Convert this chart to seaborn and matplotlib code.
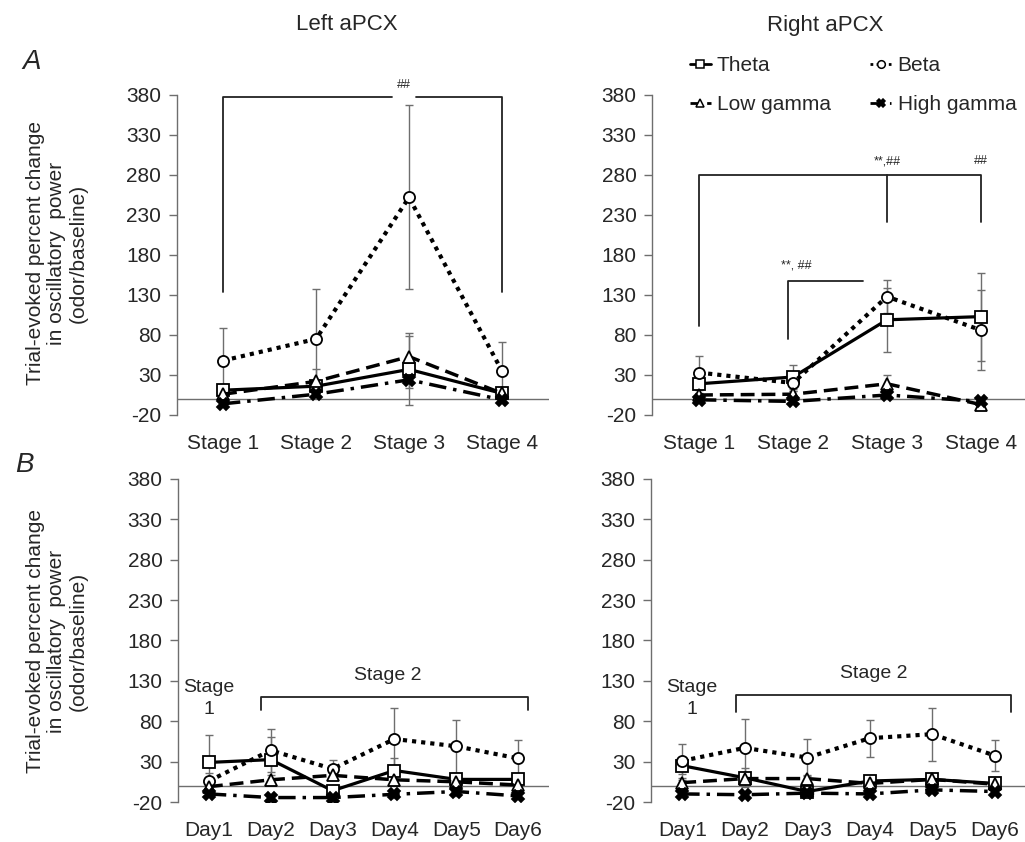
import numpy as np
import pandas as pd
import matplotlib
matplotlib.use("Agg")
import matplotlib.pyplot as plt
import seaborn as sns
from matplotlib.lines import Line2D

sns.set_theme(style="white")
plt.rcParams['font.family'] = ['Liberation Sans', 'DejaVu Sans']

# ---------------- data ----------------
series_names = ["Theta", "Beta", "Low gamma", "High gamma"]
stage_labels = ["Stage 1", "Stage 2", "Stage 3", "Stage 4"]
day_labels = ["Day1", "Day2", "Day3", "Day4", "Day5", "Day6"]
y_ticks = [-20, 30, 80, 130, 180, 230, 280, 330, 380]

# A, left aPCX
left_stage_theta = [11, 16, 37, 7]
left_stage_beta = [48, 75, 252, 35]
left_stage_lowg = [6, 22, 53, 7]
left_stage_highg = [-6, 6, 24, -1]
left_stage_theta_err = [5, 8, 45, 5]
left_stage_beta_err = [41, 62, 115, 36]
left_stage_lowg_err = [5, 15, 26, 5]
left_stage_highg_err = [3, 4, 10, 3]

# A, right aPCX
right_stage_theta = [19, 27.5, 99, 103]
right_stage_beta = [33, 20, 128, 86]
right_stage_lowg = [5, 6, 19, -7]
right_stage_highg = [-1, -3, 5, -3]
right_stage_theta_err = [8, 15, 40, 55]
right_stage_beta_err = [21, 10, 21, 50]
right_stage_lowg_err = [3, 4, 11, 3]
right_stage_highg_err = [2, 2, 4, 2]

# B, left aPCX
left_day_theta = [29, 32.5, -6, 19, 8, 8]
left_day_beta = [6, 44, 21, 58, 49, 34]
left_day_lowg = [-1, 7.5, 13, 7.5, 5, 1]
left_day_highg = [-10, -14.5, -14.5, -10.5, -7, -12.5]
left_day_theta_err = [34, 28, 6, 15, 8, 6]
left_day_beta_err = [10, 27, 11, 39, 33, 23]
left_day_lowg_err = [3, 6, 6, 5, 4, 3]
left_day_highg_err = [3, 3, 3, 4, 5, 3]

# B, right aPCX
right_day_theta = [25, 10, -7, 6, 8, 3]
right_day_beta = [31, 47, 35, 59, 64, 37.5]
right_day_lowg = [4, 9, 9, 3, 8, 2]
right_day_highg = [-10, -11, -9, -10, -5, -7]
right_day_theta_err = [10, 12, 4, 6, 7, 5]
right_day_beta_err = [21, 35.5, 22.5, 23, 33, 19]
right_day_lowg_err = [3, 4, 4, 3, 4, 3]
right_day_highg_err = [3, 3, 3, 3, 4, 3]

# ---------------- styles ----------------
styles = {
    "Theta": dict(ls="-", marker="s", lw=2.3),
    "Beta": dict(ls=(0, (1, 1.2)), marker="o", lw=3.0),
    "Low gamma": dict(ls=(0, (4, 2)), marker="^", lw=2.5),
    "High gamma": dict(ls=(0, (5, 2, 1, 2)), marker="X", lw=2.5),
}
GRAY = "#6e6e6e"

fig = plt.figure(figsize=(10.25, 8.42), dpi=100)
W, H = 1025, 842


def make_ax(x0, x1, ytop, ybot):
    return fig.add_axes([x0 / W, 1 - ybot / H, (x1 - x0) / W, (ybot - ytop) / H])


def draw_panel(ax, labels, vals, errs):
    n = len(labels)
    xs = np.arange(n)
    ax.axhline(0, color=GRAY, lw=1.0, zorder=1)
    for name in series_names:
        ax.errorbar(xs, vals[name], yerr=errs[name], fmt="none", ecolor=GRAY,
                    elinewidth=1.0, capsize=3, capthick=1.0, zorder=2)
    for name in series_names:
        st = styles[name]
        df = pd.DataFrame({"x": xs, "y": vals[name]})
        mfc = "black" if name == "High gamma" else "white"
        sns.lineplot(data=df, x="x", y="y", ax=ax, color="black",
                     linestyle=st["ls"], linewidth=st["lw"], marker=st["marker"],
                     markersize=8, markerfacecolor=mfc, markeredgecolor="black",
                     markeredgewidth=1.3, zorder=3, sort=False)
    ax.set_xlim(-0.5, n - 0.5)
    ax.set_ylim(-20, 380)
    ax.set_yticks(y_ticks)
    ax.set_yticklabels([str(t) for t in y_ticks], fontsize=15)
    ax.set_xticks(xs)
    ax.set_xticklabels(labels, fontsize=15)
    ax.set_xlabel("")
    ax.set_ylabel("")
    for s in ["top", "right", "bottom"]:
        ax.spines[s].set_visible(False)
    ax.spines["left"].set_color(GRAY)
    ax.spines["left"].set_linewidth(1.0)
    ax.tick_params(axis="y", direction="out", length=6, width=1.0, color=GRAY,
                   left=True, pad=5)
    ax.tick_params(axis="x", length=0, pad=14)
    ax.patch.set_alpha(0)


def bracket(ax, pts):
    xs, ys = zip(*pts)
    ax.plot(xs, ys, color="#222222", lw=1.3, clip_on=False, zorder=1)


ax_tl = make_ax(176.5, 548.5, 95, 415)
ax_tr = make_ax(652, 1028, 95, 415)
ax_bl = make_ax(178, 549, 479, 802)
ax_br = make_ax(651, 1026, 479, 802)

draw_panel(ax_tl, stage_labels,
           {"Theta": left_stage_theta, "Beta": left_stage_beta,
            "Low gamma": left_stage_lowg, "High gamma": left_stage_highg},
           {"Theta": left_stage_theta_err, "Beta": left_stage_beta_err,
            "Low gamma": left_stage_lowg_err, "High gamma": left_stage_highg_err})
draw_panel(ax_tr, stage_labels,
           {"Theta": right_stage_theta, "Beta": right_stage_beta,
            "Low gamma": right_stage_lowg, "High gamma": right_stage_highg},
           {"Theta": right_stage_theta_err, "Beta": right_stage_beta_err,
            "Low gamma": right_stage_lowg_err, "High gamma": right_stage_highg_err})
draw_panel(ax_bl, day_labels,
           {"Theta": left_day_theta, "Beta": left_day_beta,
            "Low gamma": left_day_lowg, "High gamma": left_day_highg},
           {"Theta": left_day_theta_err, "Beta": left_day_beta_err,
            "Low gamma": left_day_lowg_err, "High gamma": left_day_highg_err})
draw_panel(ax_br, day_labels,
           {"Theta": right_day_theta, "Beta": right_day_beta,
            "Low gamma": right_day_lowg, "High gamma": right_day_highg},
           {"Theta": right_day_theta_err, "Beta": right_day_beta_err,
            "Low gamma": right_day_lowg_err, "High gamma": right_day_highg_err})

# ---- significance brackets ----
bracket(ax_tl, [(0, 134), (0, 377), (1.82, 377)])
bracket(ax_tl, [(2.07, 377), (3, 377), (3, 134)])
ax_tl.text(1.95, 385, "##", ha="center", va="bottom", fontsize=9)

bracket(ax_tr, [(0, 91), (0, 280), (3, 280), (3, 221)])
bracket(ax_tr, [(2, 280), (2, 221)])
ax_tr.text(2.0, 290, "**,##", ha="center", va="bottom", fontsize=9)
ax_tr.text(3.0, 290, "##", ha="center", va="bottom", fontsize=9)
bracket(ax_tr, [(0.95, 75), (0.95, 148), (1.74, 148)])
ax_tr.text(1.03, 160, "**, ##", ha="center", va="bottom", fontsize=9)

bracket(ax_bl, [(0.85, 94), (0.85, 110), (5.16, 110), (5.16, 94)])
ax_bl.text(2.9, 126, "Stage 2", ha="center", va="bottom", fontsize=14)
ax_bl.text(0.0, 108, "Stage\n1", ha="center", va="center", fontsize=14,
           linespacing=1.35)
bracket(ax_br, [(0.86, 92), (0.86, 112), (5.26, 112), (5.26, 92)])
ax_br.text(3.06, 128, "Stage 2", ha="center", va="bottom", fontsize=14)
ax_br.text(0.15, 108, "Stage\n1", ha="center", va="center", fontsize=14,
           linespacing=1.35)

# ---- titles, labels ----
fig.text(347 / W, 1 - 25 / H, "Left aPCX", ha="center", va="center", fontsize=16)
fig.text(825 / W, 1 - 25 / H, "Right aPCX", ha="center", va="center", fontsize=16)
fig.text(32 / W, 1 - 62 / H, "A", ha="center", va="center", fontsize=20,
         style="italic")
fig.text(24 / W, 1 - 465 / H, "B", ha="center", va="center", fontsize=20,
         style="italic")
ylab = "Trial-evoked percent change\nin oscillatory  power\n(odor/baseline)"
fig.text(57 / W, 1 - 253 / H, ylab, rotation=90, ha="center", va="center",
         fontsize=15, linespacing=1.15)
fig.text(57 / W, 1 - 641 / H, ylab, rotation=90, ha="center", va="center",
         fontsize=15, linespacing=1.15)

# ---- legend ----
def handle(name):
    st = styles[name]
    return Line2D([0], [0], color="black", linestyle=st["ls"], linewidth=2.0,
                  marker=st["marker"], markersize=5.5,
                  markerfacecolor="black" if name == "High gamma" else "white",
                  markeredgecolor="black", markeredgewidth=1.1)

order = ["Theta", "Low gamma", "Beta", "High gamma"]
fig.legend([handle(n) for n in order], order, loc="center",
           bbox_to_anchor=(853 / W, 1 - 85 / H), ncol=2, frameon=False,
           fontsize=15, handlelength=1.0, handletextpad=0.3,
           columnspacing=1.9, labelspacing=0.95)

fig.savefig("out.png", dpi=100)
